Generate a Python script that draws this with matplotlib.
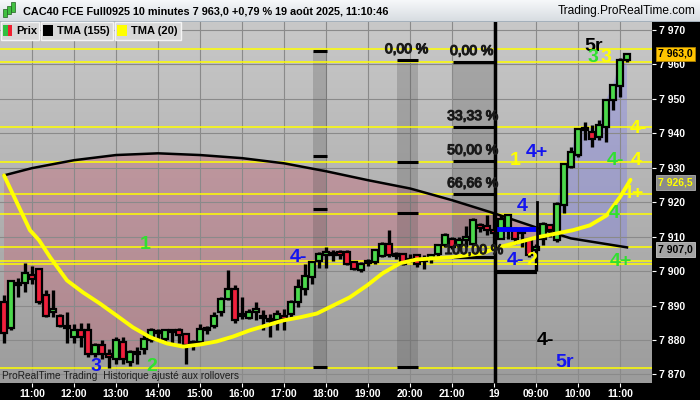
import numpy as np
import matplotlib
matplotlib.use("Agg")
import matplotlib.pyplot as plt
from matplotlib.patches import Rectangle
from matplotlib.colors import to_rgb
import matplotlib.patheffects as pe

plt.rcParams['font.family'] = ['Liberation Sans', 'DejaVu Sans']

# ---------------- data (10-minute bars; index 0 = 11:00 on 18 Aug, 66 = 08:00 on 19 Aug)
bars = list(range(-4, 86))
opens = [7891, 7883.5, 7896, 7896.5, 7898.8, 7900.5, 7893, 7888, 7887, 7884,
         7881, 7883, 7883, 7876, 7878.5, 7876, 7874.5, 7879.5, 7873.6, 7876,
         7877.5, 7880, 7882, 7880.4, 7882.8, 7882.8, 7881.8, 7879.5, 7879.4, 7883,
         7884.2, 7888.1, 7892, 7894.9, 7887, 7886.5, 7888, 7887, 7886, 7885.7,
         7887.1, 7887.6, 7891, 7894.9, 7898.3, 7903, 7904.6, 7905.2, 7905.5, 7905.5,
         7902.6, 7900.2, 7902.5, 7902.6, 7904.5, 7908, 7905, 7905, 7903, 7904.6,
         7903, 7903.5, 7905, 7907.5, 7909.4, 7907.5, 7909, 7908, 7913.3, 7913,
         7912, 7909.4, 7912.4, 7911.9, 7911, 7909, 7906, 7909.4, 7913.3, 7909,
         7919.1, 7930.3, 7933.7, 7941.5, 7940.5, 7939, 7941.9, 7949.7, 7953.6, 7961.3]
highs = [7893, 7897.5, 7898, 7902.5, 7901.4, 7901, 7894.5, 7894.5, 7887.5, 7888,
         7884.7, 7885, 7885, 7879, 7880, 7877.5, 7881, 7881, 7877, 7878,
         7881.5, 7883.5, 7883.3, 7883.3, 7883.3, 7883.5, 7882, 7880, 7884.7, 7884.2,
         7888, 7892.5, 7900.4, 7896, 7892.5, 7889, 7891, 7888.6, 7887.6, 7888.6,
         7889, 7891.5, 7897.8, 7902, 7902.7, 7905.6, 7907, 7906, 7906, 7906,
         7903, 7902.7, 7903.5, 7906.5, 7908.5, 7911.9, 7905.6, 7905.3, 7905, 7905,
         7904.6, 7905, 7908, 7911, 7910, 7910, 7913, 7915.5, 7914, 7916.2,
         7917, 7916.2, 7916.7, 7912.8, 7912.4, 7909.4, 7908, 7914.3, 7913.8, 7920.1,
         7931.5, 7936.1, 7941.5, 7943.4, 7942.4, 7943.8, 7949.7, 7954, 7961.8, 7963.2]
lows = [7879, 7883, 7892.5, 7894, 7896.4, 7890.5, 7886.7, 7886.7, 7883.7, 7879,
        7879, 7878, 7875, 7875, 7874.5, 7872, 7873, 7873, 7872.6, 7873,
        7876, 7879.5, 7880, 7879.5, 7879, 7879, 7873, 7877, 7879, 7881.8,
        7883.5, 7887, 7891.5, 7885, 7886, 7886, 7885.7, 7882.8, 7880.8, 7882.8,
        7882.8, 7886.7, 7889.6, 7893, 7896.4, 7901, 7901, 7903, 7903.6, 7901.7,
        7900.2, 7899.7, 7901.5, 7902.2, 7904, 7904, 7903.6, 7901.7, 7902.6, 7901.2,
        7900.7, 7902.5, 7904, 7907, 7906.5, 7906.5, 7907, 7907.5, 7911.5, 7910.4,
        7907, 7909.4, 7909.4, 7908, 7907, 7904, 7900, 7907.5, 7910, 7908.5,
        7917, 7929.8, 7933, 7938, 7936.1, 7938, 7937.5, 7946.8, 7950.6, 7960.8]
closes = [7882, 7897, 7896.5, 7899.5, 7897.8, 7891, 7887, 7889, 7884, 7883.5,
          7883, 7881, 7876, 7878.5, 7876, 7875, 7880, 7874.5, 7876.5, 7876.5,
          7880.4, 7882.8, 7882.5, 7882.8, 7882.3, 7881.5, 7878.5, 7879, 7883.3, 7883.5,
          7887.1, 7892, 7894.9, 7885.7, 7887.5, 7888.2, 7889, 7886.5, 7885.5, 7887.6,
          7886.2, 7891, 7895.4, 7898.5, 7902.7, 7905, 7905.6, 7904.6, 7904.6, 7902.2,
          7900.7, 7902.2, 7902.8, 7906, 7908, 7904.6, 7904.5, 7902.2, 7903.5, 7902.2,
          7903.5, 7904.6, 7907.5, 7910.4, 7907, 7909, 7910, 7914.8, 7912.4, 7911.8,
          7911, 7915.2, 7916.2, 7909.4, 7911.4, 7904.6, 7907, 7913.8, 7911.9, 7919.6,
          7931.2, 7934.6, 7941.4, 7941, 7938.5, 7942.4, 7949.7, 7954, 7961.3, 7963]

tma155_t = [-4, 0, 6, 12, 18, 24, 30, 36, 42, 48, 54, 60, 66, 72, 77, 85]
tma155_v = [7927.8, 7929.9, 7932.2, 7933.7, 7934.2, 7933.7, 7932.8, 7931.3, 7929.0,
            7926.4, 7924.0, 7920.6, 7916.8, 7912.7, 7909.5, 7906.9]

tma20_t = [-4, -0.3, 1.0, 2.6, 5.0, 7.3, 9.7, 12.1, 14.4, 16.9, 19.3, 21.6, 24, 26.4,
           28.7, 31.1, 35.9, 38.3, 40.7, 43, 45.4, 47.9, 50.1, 52.6, 55, 57.3, 59.7,
           62.1, 64.4, 66.1, 72.1, 77.3, 79.7, 82.1, 84, 85.5]
tma20_v = [7927.8, 7911.9, 7909.0, 7904.0, 7897.3, 7893.8, 7890.6, 7887.1, 7883.7,
           7880.8, 7879.0, 7878.1, 7878.7, 7879.6, 7881.0, 7882.8, 7885.7, 7886.6,
           7887.7, 7890.0, 7892.4, 7895.9, 7899.4, 7902.3, 7903.4, 7903.7, 7904.0,
           7904.6, 7905.2, 7906.6, 7909.8, 7911.9, 7913.3, 7916.2, 7921.5, 7926.5]

yellow_levels = [7964.5, 7960.7, 7941.8, 7931.8, 7922.3, 7916.5, 7906.9, 7902.8, 7902.2, 7872.0]

tick_pos = [0, 6, 12, 18, 24, 30, 36, 42, 48, 54, 60, 66, 72, 78, 84]
tick_labels = ['11:00', '12:00', '13:00', '14:00', '15:00', '16:00', '17:00', '18:00',
               '19:00', '20:00', '21:00', '19', '09:00', '10:00', '11:00']
price_ticks = [7870, 7880, 7890, 7900, 7910, 7920, 7930, 7940, 7950, 7960, 7970]

# retracement zones: (start bar, end bar, levels top->bottom)
zones = [(40.1, 42.1, [7963.9, 7933.4, 7918.1, 7872.3]),
         (52.1, 55.1, [7961.3, 7931.6, 7916.8, 7872.3]),
         (60.1, 66.1, [7960.7, 7941.8, 7932.1, 7922.4, 7904.0])]
zone_texts = [("0,00 %", 56.6, 7962.4), ("0,00 %", 65.9, 7961.9), ("33,33 %", 66.6, 7943.0),
              ("50,00 %", 66.6, 7933.1), ("66,66 %", 66.6, 7923.5), ("100,00 %", 67.3, 7904.1)]

GREEN, BLUE, YEL, BLK = '#30e030', '#1414f0', '#ffff00', '#000000'
marks = [("1", 16.1, 7907.8, GREEN), ("2", 17.1, 7872.4, GREEN), ("3", 9.1, 7872.4, BLUE),
         ("4-", 38.1, 7903.9, BLUE), ("4-", 69.1, 7903.2, BLUE), ("2", 71.4, 7903.2, YEL),
         ("4", 70.0, 7918.9, BLUE), ("4+", 72.1, 7934.3, BLUE), ("1", 69.0, 7932.2, YEL),
         ("4-", 73.3, 7880.0, BLK), ("5r", 76.1, 7873.6, BLUE), ("5r", 80.3, 7965.2, BLK),
         ("3", 80.1, 7961.9, GREEN), ("3", 82.0, 7961.9, YEL), ("4-", 86.6, 7941.5, YEL),
         ("4-", 83.3, 7932.0, GREEN), ("4", 86.3, 7932.0, YEL), ("4+", 85.9, 7922.6, YEL),
         ("4", 83.1, 7916.8, GREEN), ("4+", 84.1, 7902.9, GREEN)]

# ---------------- figure
W, H = 700, 400
fig = plt.figure(figsize=(7, 4), dpi=100, facecolor='black')

def fx(x):
    return x / W

def fy(y):
    return 1 - y / H

ax = fig.add_axes([0, 17 / H, 652 / W, 361 / H])
XL = (-32 / 7, 620 / 7)
YL = (7867.53, 7972.32)

top = np.array(to_rgb('#c8c8c8'))
bot = np.array(to_rgb('#9c9c9c'))
g = np.linspace(0, 1, 256)[:, None]
img = (top * (1 - g) + bot * g)[:, None, :]
ax.imshow(img, extent=[XL[0], XL[1], YL[0], YL[1]], aspect='auto', zorder=0, origin='upper')

t = np.array(bars, dtype=float)
o = np.array(opens); h = np.array(highs); l = np.array(lows); c = np.array(closes)
m155 = np.interp(t, tma155_t, tma155_v)
ax.fill_between(t, c, m155, where=c <= m155, interpolate=True, color=(0.78, 0.40, 0.47),
                alpha=0.40, lw=0, zorder=1)
ax.fill_between(t, c, m155, where=c >= m155, interpolate=True, color=(0.45, 0.45, 0.95),
                alpha=0.32, lw=0, zorder=1)

for tp in tick_pos:
    ax.axvline(tp, color='#8a8a8a', lw=0.8, zorder=1.2)
for pv in price_ticks:
    ax.axhline(pv, color='#8a8a8a', lw=0.8, zorder=1.2)

for (x0, x1, lv) in zones:
    ax.add_patch(Rectangle((x0, lv[-1]), x1 - x0, lv[0] - lv[-1], facecolor=(0.3, 0.3, 0.3),
                           alpha=0.25, lw=0, zorder=1.5))
    for v in lv:
        ax.plot([x0, x1], [v, v], color='black', lw=2.2, zorder=3, solid_capstyle='butt')
for s, xr, yb in zone_texts:
    ax.text(xr, yb, s, ha='right', va='bottom', fontsize=10, color='#1a1a1a', zorder=9,
            path_effects=[pe.withStroke(linewidth=0.9, foreground='#1a1a1a')])

for v in yellow_levels:
    ax.axhline(v, color='#ffff00', lw=1.1, zorder=2.5)

ax.plot(tma155_t, tma155_v, color='black', lw=1.8, zorder=4)

ax.vlines(t, l, h, color='black', lw=2.4, zorder=5)
colors = ['#4cd84c' if cc >= oo else '#f0203c' for oo, cc in zip(o, c)]
body = np.maximum(np.abs(c - o), 0.35)
ax.bar(t, body, bottom=np.minimum(o, c), width=0.74, color=colors, edgecolor='black',
       linewidth=1.6, zorder=6)

ax.plot(tma20_t, tma20_v, color='#ffff00', lw=2.8, zorder=7, solid_capstyle='round')

# drawn objects at the start of day 2
ax.plot([66.1, 72.1], [7912.2, 7912.2], color='#0000ff', lw=3.5, zorder=8, solid_capstyle='butt')
ax.plot([66.1, 72.1], [7899.7, 7899.7], color='black', lw=3, zorder=8, solid_capstyle='butt')
ax.plot([72.1, 72.1], [7907.0, 7920.1], color='black', lw=2, zorder=8)
ax.axvline(66.15, color='black', lw=2.5, zorder=8)

for s, xx, yy, col in marks:
    ax.text(xx, yy, s, color=col, fontsize=14, fontweight='bold', ha='center', va='center', zorder=9)

ax.text(2 / 652, 7 / 361, "ProRealTime Trading  Historique ajusté aux rollovers",
        transform=ax.transAxes, fontsize=7.3, color='#1e1e1e', va='center', ha='left', zorder=9)

ax.set_xlim(XL)
ax.set_ylim(YL)
ax.yaxis.tick_right()
ax.set_yticks(price_ticks)
ax.set_yticklabels([f"{v // 1000} {v % 1000:03d}" for v in price_ticks])
ax.set_xticks(tick_pos)
ax.set_xticklabels(tick_labels)
ax.tick_params(axis='y', colors='white', labelsize=7.5, length=3, width=0.8, pad=2)
ax.tick_params(axis='x', colors='white', labelsize=7.5, length=3, width=0.8, pad=1.5)
for lab in ax.get_xticklabels() + ax.get_yticklabels():
    lab.set_fontweight('bold')
for sp in ax.spines.values():
    sp.set_visible(False)

# right-axis value boxes
fig.text(fx(658), fy(54), "7 963,0", fontsize=7.5, fontweight='bold', color='black', va='center',
         ha='left', bbox=dict(boxstyle='square,pad=0.2', fc='#ffc400', ec='#b08000', lw=0.6), zorder=10)
fig.text(fx(658), fy(182.5), "7 926,5", fontsize=7.5, fontweight='bold', color='#ffff00', va='center',
         ha='left', bbox=dict(boxstyle='square,pad=0.2', fc='#8a8a8a', ec='#b0b0b0', lw=0.6), zorder=10)
fig.text(fx(658), fy(249.5), "7 907,0", fontsize=7.5, fontweight='bold', color='black', va='center',
         ha='left', bbox=dict(boxstyle='square,pad=0.2', fc='#a4a4a4', ec='#c8c8c8', lw=0.6), zorder=10)

# title bar
tax = fig.add_axes([0, fy(22), 1, 22 / H])
tt = np.array(to_rgb('#f6f8fa')); tb = np.array(to_rgb('#d6dbe0'))
gg = np.linspace(0, 1, 64)[:, None]
tax.imshow((tt * (1 - gg) + tb * gg)[:, None, :], extent=[0, 1, 0, 1], aspect='auto', origin='upper')
tax.set_xlim(0, 1); tax.set_ylim(0, 1)
tax.axis('off')
tax.axhline(0.02, color='#9aa8b4', lw=1.2)
for xi, (yb, yt) in zip([5, 9, 13], [(0.25, 0.6), (0.35, 0.75), (0.45, 0.9)]):
    tax.add_patch(Rectangle((xi / W - 0.0025, yb), 0.005, yt - yb, fc='#40c040', ec='#206020', lw=0.5))
fig.text(fx(23), fy(11), "CAC40 FCE Full0925 10 minutes 7 963,0 +0,79 % 19 août 2025, 11:10:46",
         fontsize=7.8, fontweight='bold', color='black', va='center', ha='left')
fig.text(fx(696), fy(11), "Trading.ProRealTime.com", fontsize=8.6, color='black', va='center', ha='right')

# legend boxes
def box(x0, x1):
    fig.add_artist(Rectangle((fx(x0), fy(40)), (x1 - x0) / W, 18 / H, transform=fig.transFigure,
                             fc='#d8d8d8', ec='#f4f4f4', lw=1, zorder=10))

box(1, 39); box(41, 113); box(115, 181)
fig.add_artist(Rectangle((fx(3), fy(36)), 4.5 / W, 11 / H, transform=fig.transFigure, fc='#30c040', lw=0, zorder=11))
fig.add_artist(Rectangle((fx(7.5), fy(36)), 4.5 / W, 11 / H, transform=fig.transFigure, fc='#f02030', lw=0, zorder=11))
fig.add_artist(Rectangle((fx(43), fy(36)), 10 / W, 11 / H, transform=fig.transFigure, fc='black', lw=0, zorder=11))
fig.add_artist(Rectangle((fx(117), fy(36)), 10 / W, 11 / H, transform=fig.transFigure, fc='#ffff00', lw=0, zorder=11))
for xx, s in [(16, "Prix"), (57, "TMA (155)"), (131, "TMA (20)")]:
    fig.text(fx(xx), fy(31), s, fontsize=8, fontweight='bold', color='black', va='center', ha='left', zorder=12)

fig.savefig("out.png", dpi=100, facecolor='black')
